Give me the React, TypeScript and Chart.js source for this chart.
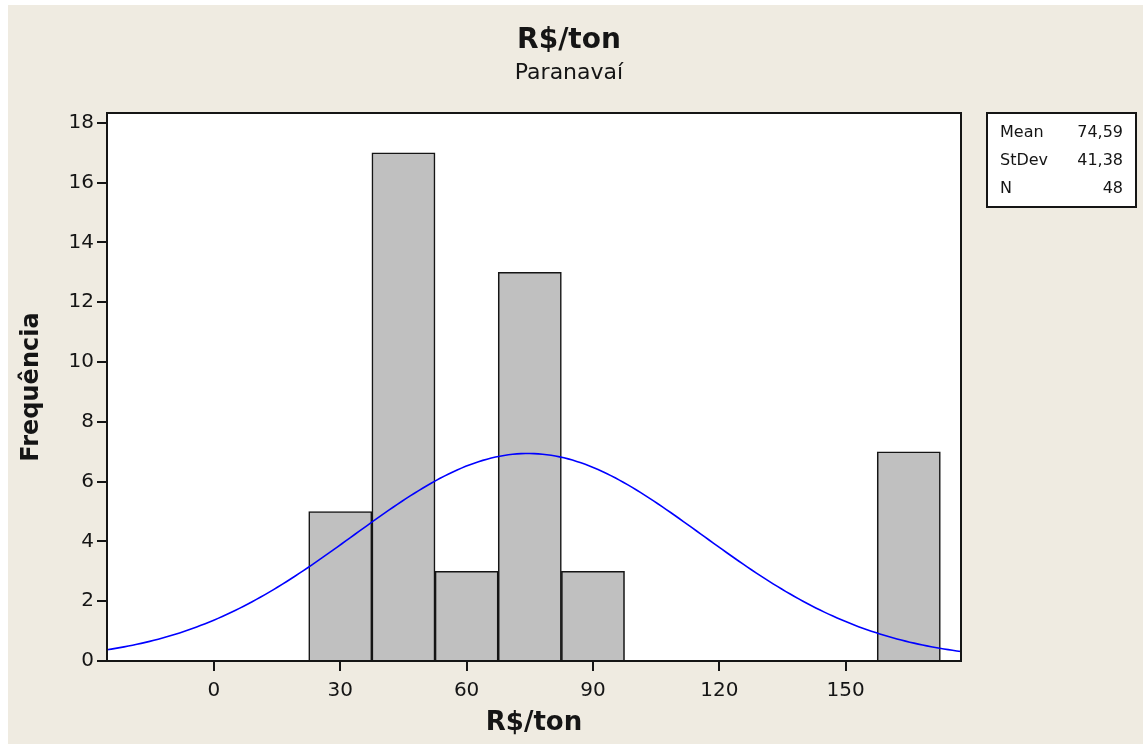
import React, { useEffect, useRef } from "react";
import { Chart, registerables } from "chart.js";

Chart.register(...registerables);

// Histogram bins (bin width 15) and their counts
const BIN_CENTERS = [30, 45, 60, 75, 90, 165];
const BIN_COUNTS = [5, 17, 3, 13, 3, 7];
const BIN_WIDTH = 15;

// Summary statistics shown in the box
const MEAN = 74.59;
const STDEV = 41.38;
const N = 48;

// Axis ticks and ranges
const X_TICKS = [0, 30, 60, 90, 120, 150];
const Y_TICKS = [0, 2, 4, 6, 8, 10, 12, 14, 16, 18];
const X_MIN = -25.4;
const X_MAX = 177.4;
const Y_MAX = 18.33;

const TITLE = "R$/ton";
const SUBTITLE = "Paranavaí";
const X_TITLE = "R$/ton";
const Y_TITLE = "Frequência";

const STATS_ROWS: [string, string][] = [
  ["Mean", "74,59"],
  ["StDev", "41,38"],
  ["N", "48"],
];

// Fitted normal curve, scaled to counts (N * bin width)
function normalCurve(): { x: number; y: number }[] {
  const pts: { x: number; y: number }[] = [];
  const scale = N * BIN_WIDTH;
  const steps = 200;
  for (let i = 0; i <= steps; i++) {
    const x = X_MIN + ((X_MAX - X_MIN) * i) / steps;
    const z = (x - MEAN) / STDEV;
    const y = (scale / (STDEV * Math.sqrt(2 * Math.PI))) * Math.exp(-0.5 * z * z);
    pts.push({ x, y });
  }
  return pts;
}

const FONT = "'DejaVu Sans', Verdana, sans-serif";
const INK = "#151515";
const PAGE_BG = "#EFEBE1";

const decorations = {
  id: "decorations",
  beforeDraw(chart: any) {
    const { ctx, chartArea } = chart;
    ctx.save();
    ctx.fillStyle = "#ffffff";
    ctx.fillRect(chartArea.left, chartArea.top, chartArea.right - chartArea.left, chartArea.bottom - chartArea.top);
    ctx.restore();
  },
  afterDraw(chart: any) {
    const { ctx, chartArea } = chart;
    ctx.save();
    // plot frame
    ctx.strokeStyle = INK;
    ctx.lineWidth = 2;
    ctx.strokeRect(chartArea.left, chartArea.top, chartArea.right - chartArea.left, chartArea.bottom - chartArea.top);

    ctx.fillStyle = INK;
    ctx.textAlign = "center";
    ctx.textBaseline = "middle";
    // titles
    ctx.font = `bold 28px ${FONT}`;
    ctx.fillText(TITLE, 561, 36);
    ctx.font = `22px ${FONT}`;
    ctx.fillText(SUBTITLE, 561, 68);
    const cx = (chartArea.left + chartArea.right) / 2;
    const cy = (chartArea.top + chartArea.bottom) / 2;
    ctx.font = `bold 26px ${FONT}`;
    ctx.fillText(X_TITLE, cx, 718);
    ctx.save();
    ctx.translate(24, cy);
    ctx.rotate(-Math.PI / 2);
    ctx.font = `bold 24px ${FONT}`;
    ctx.fillText(Y_TITLE, 0, 0);
    ctx.restore();

    // statistics box
    const bx = 979, by = 108, bw = 149, bh = 94;
    ctx.fillStyle = "#ffffff";
    ctx.fillRect(bx, by, bw, bh);
    ctx.strokeStyle = INK;
    ctx.lineWidth = 2;
    ctx.strokeRect(bx, by, bw, bh);
    ctx.fillStyle = INK;
    ctx.font = `16px ${FONT}`;
    STATS_ROWS.forEach(([label, value], i) => {
      const y = by + 20 + i * 28;
      ctx.textAlign = "left";
      ctx.fillText(label, bx + 13, y);
      ctx.textAlign = "right";
      ctx.fillText(value, bx + bw - 13, y);
    });
    ctx.restore();
  },
};

export default function App() {
  const ref = useRef<HTMLCanvasElement | null>(null);

  useEffect(() => {
    if (!ref.current) return;
    const chart = new Chart(ref.current, {
      type: "bar",
      data: {
        datasets: [
          {
            type: "line",
            data: normalCurve(),
            borderColor: "#0000FF",
            borderWidth: 1.6,
            pointRadius: 0,
            tension: 0,
            order: 0,
          } as any,
          {
            type: "bar",
            data: BIN_CENTERS.map((x, i) => ({ x, y: BIN_COUNTS[i] })),
            backgroundColor: "#C0C0C0",
            borderColor: INK,
            borderWidth: 1.6,
            borderSkipped: "start",
            barPercentage: 1,
            categoryPercentage: 1,
            order: 1,
          } as any,
        ],
      },
      options: {
        responsive: false,
        animation: false,
        events: [],
        layout: { padding: { left: 59, top: 108, right: 182, bottom: 43 } },
        plugins: {
          legend: { display: false },
          title: { display: false },
          tooltip: { enabled: false },
        },
        scales: {
          x: {
            type: "linear",
            min: X_MIN,
            max: X_MAX,
            offset: false,
            border: { display: false },
            grid: { offset: false, drawOnChartArea: false, drawTicks: true, tickLength: 10, color: INK, lineWidth: 2 },
            ticks: { padding: 8, color: INK, font: { family: FONT, size: 20 }, maxRotation: 0 },
            afterBuildTicks: (scale: any) => {
              scale.ticks = X_TICKS.map((v) => ({ value: v }));
            },
            afterFit: (scale: any) => {
              scale.height = 40;
            },
          },
          y: {
            type: "linear",
            min: 0,
            max: Y_MAX,
            border: { display: false },
            grid: { drawOnChartArea: false, drawTicks: true, tickLength: 10, color: INK, lineWidth: 2 },
            ticks: { padding: 3, color: INK, font: { family: FONT, size: 20 } },
            afterBuildTicks: (scale: any) => {
              scale.ticks = Y_TICKS.map((v) => ({ value: v }));
            },
            afterFit: (scale: any) => {
              scale.width = 40;
            },
          },
        },
      },
      plugins: [decorations],
    });
    return () => chart.destroy();
  }, []);

  return (
    <>
      <style>{"html,body{margin:0;overflow:hidden;background:#fff}"}</style>
      <div style={{ position: "absolute", left: 8, top: 5, width: 1135, height: 739, background: PAGE_BG }}>
        <canvas ref={ref} width={1135} height={739} style={{ display: "block" }} />
      </div>
    </>
  );
}
